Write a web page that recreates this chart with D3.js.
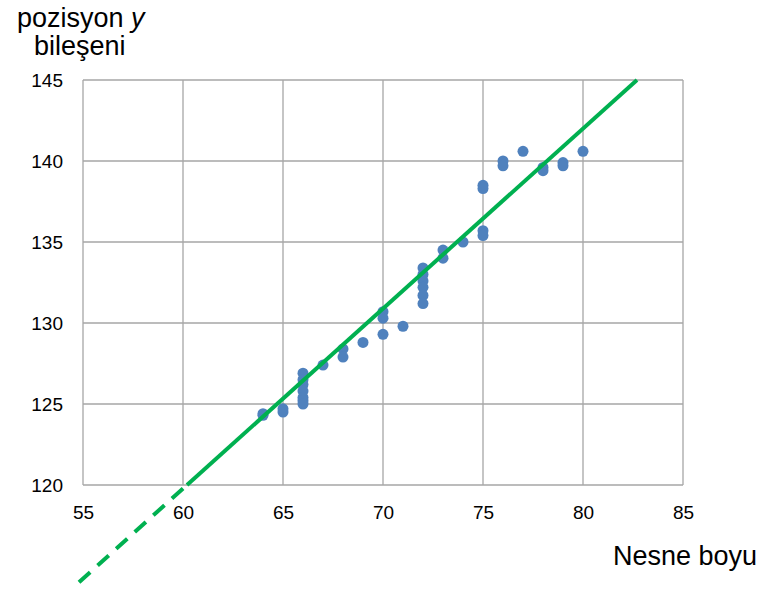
<!DOCTYPE html>
<html>
<head>
<meta charset="utf-8">
<script src="https://cdn.jsdelivr.net/npm/d3@7"></script>
<style>
	body { margin: 0; background: #fff; }
	svg text { font-family: "Liberation Sans", Arial, sans-serif; fill: #000; }
</style>
</head>
<body>
<svg id="chart" width="765" height="594"></svg>
<script>
// x ticks / y ticks
var xTicks = [55, 60, 65, 70, 75, 80, 85];
var yTicks = [120, 125, 130, 135, 140, 145];

// measured points (nesne boyu, y bileseni)
var sizes = [64, 64, 65, 65, 66, 66, 66, 66, 66, 66, 66, 67, 68, 68, 69, 70, 70, 70, 71,
	72, 72, 72, 72, 72, 72, 73, 73, 74, 75, 75, 75, 75, 76, 76, 77, 78, 78, 79, 79, 80];
var posY = [124.3, 124.4, 124.5, 124.7, 126.9, 126.5, 126.2, 125.8, 125.4, 125.2, 125.0, 127.4, 128.4, 127.9, 128.8, 130.7, 130.3, 129.3, 129.8,
	133.4, 133.0, 132.6, 132.2, 131.7, 131.2, 134.5, 134.0, 135.0, 138.5, 138.3, 135.7, 135.4, 140.0, 139.7, 140.6, 139.6, 139.4, 139.9, 139.7, 140.6];

// fitted line: dashed extrapolation then solid part
var fitDashed = [[54.8, 114.0], [60.2, 120]];
var fitSolid = [[60.2, 120], [82.7, 145]];

var svg = d3.select("#chart"),
	margin = {top: 80, right: 82, bottom: 109, left: 83},
	width = +svg.attr("width") - margin.left - margin.right,
	height = +svg.attr("height") - margin.top - margin.bottom;

var x = d3.scaleLinear().domain([55, 85]).range([0, width]);
var y = d3.scaleLinear().domain([120, 145]).range([height, 0]);

var g = svg.append("g").attr("transform", "translate(" + margin.left + "," + margin.top + ")");

// grid
g.append("g").selectAll("line.vx")
	.data(xTicks).enter().append("line")
	.attr("x1", function(d) { return x(d); })
	.attr("x2", function(d) { return x(d); })
	.attr("y1", 0).attr("y2", height)
	.attr("stroke", "#a6a6a6").attr("stroke-width", 1.3);
g.append("g").selectAll("line.hy")
	.data(yTicks).enter().append("line")
	.attr("y1", function(d) { return y(d); })
	.attr("y2", function(d) { return y(d); })
	.attr("x1", 0).attr("x2", width)
	.attr("stroke", "#a6a6a6").attr("stroke-width", 1.3);

// axes (labels only)
var xAxis = d3.axisBottom(x).tickValues(xTicks).tickSize(0).tickPadding(21);
var yAxis = d3.axisLeft(y).tickValues(yTicks).tickSize(0).tickPadding(20);
var gX = g.append("g").attr("transform", "translate(0," + height + ")").call(xAxis);
var gY = g.append("g").call(yAxis);
[gX, gY].forEach(function(a) {
	a.select(".domain").remove();
	a.selectAll("text").style("font-size", "19px").attr("fill", "#000");
});

// fit line
var line = d3.line()
	.x(function(d) { return x(d[0]); })
	.y(function(d) { return y(d[1]); });

g.append("path")
	.attr("d", line(fitDashed))
	.attr("fill", "none")
	.attr("stroke", "#00b050")
	.attr("stroke-width", 4)
	.attr("stroke-dasharray", "15,10");

// points
var pts = sizes.map(function(s, i) { return {x: s, y: posY[i]}; });
g.append("g").selectAll("circle")
	.data(pts).enter().append("circle")
	.attr("cx", function(d) { return x(d.x); })
	.attr("cy", function(d) { return y(d.y); })
	.attr("r", 5.5)
	.attr("fill", "#4f81bd");

g.append("path")
	.attr("d", line(fitSolid))
	.attr("fill", "none")
	.attr("stroke", "#00b050")
	.attr("stroke-width", 4);

// titles
var t = svg.append("text").attr("y", 27).style("font-size", "27px");
t.append("tspan").attr("x", 17).text("pozisyon ");
t.append("tspan").style("font-style", "italic").text("y");
t.append("tspan").attr("x", 34).attr("dy", 28).text("bileşeni");
svg.append("text").attr("x", 757).attr("y", 565).attr("text-anchor", "end").style("font-size", "27px").text("Nesne boyu");
</script>
</body>
</html>
